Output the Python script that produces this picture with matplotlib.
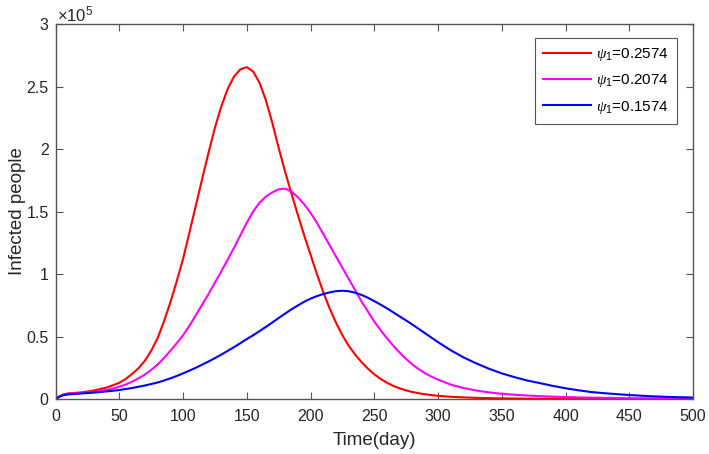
import numpy as np
import matplotlib
matplotlib.use("Agg")
import matplotlib.pyplot as plt
from matplotlib.ticker import FuncFormatter

plt.rcParams['font.family'] = ['Liberation Sans', 'DejaVu Sans']
plt.rcParams['mathtext.fontset'] = 'custom'
plt.rcParams['mathtext.rm'] = 'Liberation Sans'
plt.rcParams['mathtext.it'] = 'Liberation Serif:italic'

# time axis (days)
days = [0, 3, 6, 10, 20, 30,
        40, 45, 50, 55, 60, 65, 70, 75, 80, 85, 90, 95,
        100, 105, 110, 115, 120, 125, 130, 135, 140, 145,
        150, 155, 160, 165, 170, 175, 180, 185, 190, 195,
        200, 205, 210, 215, 220, 225, 230, 235, 240, 245,
        250, 255, 260, 265, 270, 275, 280, 285, 290, 295, 300,
        310, 320, 330, 340, 350, 360, 370, 380, 390, 400,
        410, 420, 430, 440, 450, 460, 470, 480, 490, 500]

# infected people, in thousands
infected_02574 = [0, 2.2, 3.6, 4.5, 5.3, 6.8,
                  9.2, 11, 13, 16, 20, 24.5, 30.5, 38.5, 48.5, 62, 77, 94,
                  112, 133, 154.5, 176, 197, 217, 234, 248, 258, 263.8,
                  265.5, 262, 253, 239, 221, 201, 182, 164.5, 147.5, 131,
                  115.5, 100, 85.5, 72.5, 61, 51, 42.5, 35.5, 29.5, 24.3,
                  19.8, 16, 13, 10.5, 8.5, 6.9, 5.6, 4.6, 3.8, 3.1, 2.6,
                  1.8, 1.3, 0.9, 0.7, 0.5, 0.4, 0.3, 0.25, 0.2, 0.15,
                  0.12, 0.1, 0.08, 0.07, 0.06, 0.05, 0.04, 0.03, 0.03, 0.02]

infected_02074 = [0, 2.0, 3.3, 4.2, 4.8, 5.6,
                  7.3, 8.4, 9.8, 11.6, 13.8, 16.5, 19.5, 23.2, 27.5, 32.7, 38.5, 44.5,
                  51, 58.5, 67, 75.5, 84, 93, 102, 111.5, 121, 131,
                  141, 150, 157, 162, 165.3, 167.8, 168.3, 166, 161.5, 155.8,
                  149, 141, 132, 123, 114, 105, 96, 87, 78, 70,
                  62, 55, 48.5, 42.5, 37, 32, 27.5, 23.8, 20.5, 17.8, 15.5,
                  11.5, 8.8, 6.8, 5.3, 4.2, 3.4, 2.8, 2.3, 1.9, 1.6,
                  1.3, 1.1, 0.95, 0.8, 0.7, 0.6, 0.5, 0.45, 0.4, 0.35]

infected_01574 = [0, 1.8, 3.0, 3.7, 4.4, 5.1,
                  6.1, 6.6, 7.2, 8, 8.8, 9.8, 10.8, 12, 13.2, 14.8, 16.5, 18.4,
                  20.5, 22.7, 25, 27.5, 30, 32.7, 35.5, 38.5, 41.5, 44.7,
                  48, 51, 54.3, 57.7, 61.2, 64.8, 68.3, 71.7, 74.8, 77.8,
                  80.3, 82.3, 84, 85.3, 86.3, 86.6, 86.2, 85, 83.3, 81,
                  78.3, 75.5, 72.5, 69.3, 66, 62.8, 59.5, 56, 52.5, 49, 45.5,
                  39, 33.3, 28.5, 24.2, 20.5, 17.5, 14.8, 12.7, 10.5, 8.6,
                  7, 5.6, 4.7, 3.9, 3.2, 2.6, 2.1, 1.7, 1.4, 1.2]

labels = [r'$\psi_1$=0.2574', r'$\psi_1$=0.2074', r'$\psi_1$=0.1574']
colors = ['#ff0000', '#ff00ff', '#0000ff']

fig = plt.figure(figsize=(7.09, 4.54), dpi=100)
ax = fig.add_axes([0.0783, 0.1211, 0.8992, 0.826])

for vals, lab, c in zip([infected_02574, infected_02074, infected_01574], labels, colors):
    ax.plot(days, np.array(vals) * 1000, color=c, lw=1.5, label=lab,
            solid_joinstyle='round')

ax.set_xlim(0, 500)
ax.set_ylim(0, 3e5)
ax.set_xticks(np.arange(0, 501, 50))
ax.set_yticks(np.arange(0, 3.01e5, 0.5e5))
ax.yaxis.set_major_formatter(FuncFormatter(lambda v, p: '%g' % (v / 1e5)))

axc = '#555555'
for s in ax.spines.values():
    s.set_color(axc)
    s.set_linewidth(1.0)
ax.tick_params(direction='in', length=5, width=0.8, color=axc,
               top=True, right=True, labelsize=11.5, labelcolor='#262626')
ax.tick_params(axis='x', pad=7)
ax.tick_params(axis='y', pad=5)

ax.text(0.003, 1.0, r'$\times\mathregular{10^{5}}$', transform=ax.transAxes,
        fontsize=12, color='#262626', ha='left', va='bottom')

ax.set_xlabel('Time(day)', fontsize=13.5, color='#262626', labelpad=6)
ax.set_ylabel('Infected people', fontsize=13.5, color='#262626', labelpad=0)

leg = ax.legend(loc='upper right', bbox_to_anchor=(0.975, 0.963), borderaxespad=0,
                fontsize=11, fancybox=False, framealpha=1, edgecolor=axc,
                handlelength=3.1, handletextpad=0.35, borderpad=0.55,
                labelspacing=0.6)
leg.get_frame().set_linewidth(0.8)

fig.savefig('out.png', dpi=100)
